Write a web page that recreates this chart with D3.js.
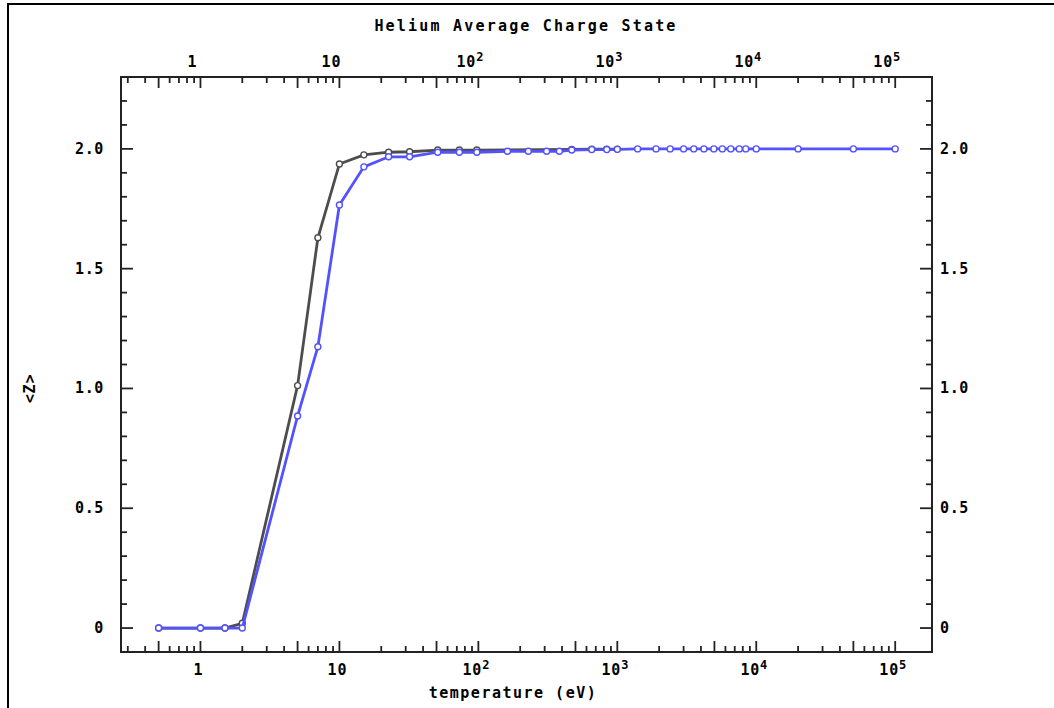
<!DOCTYPE html>
<html lang="en">
<head>
<meta charset="UTF-8">
<title>Helium Average Charge State</title>
<style>
  body { margin: 0; background: #fff; }
  text { font-family: "DejaVu Sans Mono", monospace; font-weight: bold; fill: #000; }
</style>
</head>
<body>
<div id="chart"></div>
<script src="https://d3js.org/d3.v7.min.js"></script>
<script>
// black (dark grey) series
const tempBlack = [0.5, 1, 1.5, 2, 5, 7, 10, 15, 22.6, 32, 51, 73, 97.5, 470, 655, 840, 1000];
const zBlack = [0, 0, 0, 0.02, 1.012, 1.629, 1.937, 1.975, 1.986, 1.988, 1.995, 1.995, 1.995, 1.998, 1.999, 1.999, 1.999];

// blue series
const tempBlue = [0.5, 1, 1.5, 2, 5, 7, 10, 15, 22.6, 32, 51, 73, 97.5, 162, 229, 310, 383, 470, 655, 840, 1000,
                  1400, 1900, 2400, 3000, 3550, 4200, 4950, 5700, 6550, 7550, 8400, 10000, 20000, 50000, 100000];
const zBlue = [0, 0, 0, 0, 0.885, 1.174, 1.766, 1.925, 1.967, 1.967, 1.986, 1.986, 1.986, 1.99, 1.99, 1.99, 1.99, 1.995, 1.997, 1.997, 1.998,
               2.0, 2.0, 2.0, 2.0, 2.0, 2.0, 2.0, 2.0, 2.0, 2.0, 2.0, 2.0, 2.0, 2.0, 2.0];

const xMajor = [1, 10, 100, 1000, 10000, 100000];
const xMajorExp = ["", "", "2", "3", "4", "5"];
const yMajor = [0, 0.5, 1.0, 1.5, 2.0];
const yMajorLabels = ["0", "0.5", "1.0", "1.5", "2.0"];

const width = 1054, height = 708;
const margin = {left: 121, right: 122, top: 77, bottom: 56};

const svg = d3.select("#chart").append("svg")
    .attr("width", width)
    .attr("height", height);

// outer page border
svg.append("rect")
    .attr("x", 8).attr("y", 4)
    .attr("width", 1200).attr("height", 900)
    .attr("fill", "none").attr("stroke", "#000").attr("stroke-width", 2);

const x = d3.scaleLog()
    .domain([0.268, 184000])
    .range([margin.left, width - margin.right]);

const y = d3.scaleLinear()
    .domain([-0.1, 2.3])
    .range([height - margin.bottom, margin.top]);

const x0 = x.range()[0], x1 = x.range()[1];
const y0 = y.range()[0], y1 = y.range()[1];

// frame
svg.append("rect")
    .attr("x", x0).attr("y", y1)
    .attr("width", x1 - x0).attr("height", y0 - y1)
    .attr("fill", "none").attr("stroke", "#222").attr("stroke-width", 2);

// log ticks: 2..9 per decade, 1 and 5 long
let xTicks = [];
for (let e = -1; e <= 5; e++) {
    for (let m = 1; m <= 9; m++) {
        const v = m * Math.pow(10, e);
        if (v >= x.domain()[0] && v <= x.domain()[1]) xTicks.push({v: v, long: (m == 1 || m == 5)});
    }
}

const tickG = svg.append("g").attr("stroke", "#222").attr("stroke-width", 1.8);

tickG.selectAll(".xb").data(xTicks).enter().append("line")
    .attr("x1", d => x(d.v)).attr("x2", d => x(d.v))
    .attr("y1", y0).attr("y2", d => y0 - (d.long ? 11 : 6));

tickG.selectAll(".xt").data(xTicks).enter().append("line")
    .attr("x1", d => x(d.v)).attr("x2", d => x(d.v))
    .attr("y1", y1).attr("y2", d => y1 + (d.long ? 11 : 6));

const yTicks = d3.range(-1, 24).map(i => ({v: i / 10, long: i % 5 == 0}));

tickG.selectAll(".yl").data(yTicks).enter().append("line")
    .attr("y1", d => y(d.v)).attr("y2", d => y(d.v))
    .attr("x1", x0).attr("x2", d => x0 + (d.long ? 12 : 6));

tickG.selectAll(".yr").data(yTicks).enter().append("line")
    .attr("y1", d => y(d.v)).attr("y2", d => y(d.v))
    .attr("x1", x1).attr("x2", d => x1 - (d.long ? 12 : 6));

// x tick labels (bottom and top)
function xLabel(yPos, dx) {
    const t = svg.selectAll(null).data(xMajor).enter().append("text")
        .attr("x", d => x(d) + dx)
        .attr("y", yPos)
        .attr("text-anchor", "middle")
        .attr("font-size", 15)
        .attr("letter-spacing", 0.8);
    t.append("tspan").text(d => d == 1 ? "1" : "10");
    t.append("tspan")
        .attr("dy", -6)
        .attr("font-size", 12)
        .text((d, i) => xMajorExp[i]);
}
xLabel(y0 + 23, -2);
xLabel(y1 - 10, -8);

// y tick labels
svg.selectAll(".yll").data(yMajor).enter().append("text")
    .attr("x", x0 - 17)
    .attr("y", d => y(d) + 5)
    .attr("text-anchor", "end")
    .attr("font-size", 15)
    .attr("letter-spacing", 0.6)
    .text((d, i) => yMajorLabels[i]);

svg.selectAll(".ylr").data(yMajor).enter().append("text")
    .attr("x", x1 + 8)
    .attr("y", d => y(d) + 5)
    .attr("text-anchor", "start")
    .attr("font-size", 15)
    .attr("letter-spacing", 0.6)
    .text((d, i) => yMajorLabels[i]);

// titles
svg.append("text")
    .attr("x", 526).attr("y", 31)
    .attr("text-anchor", "middle")
    .attr("font-size", 15)
    .attr("letter-spacing", 2.2)
    .text("Helium Average Charge State");

svg.append("text")
    .attr("x", 513).attr("y", 698)
    .attr("text-anchor", "middle")
    .attr("font-size", 15)
    .attr("letter-spacing", 1.5)
    .text("temperature (eV)");

svg.append("text")
    .attr("transform", "translate(35," + y(1.0) + ") rotate(-90)")
    .attr("text-anchor", "middle")
    .attr("font-size", 15)
    .attr("letter-spacing", 0.8)
    .text("<Z>");

// series
const series = [
    {t: tempBlack, z: zBlack, color: "#4d4d4d"},
    {t: tempBlue, z: zBlue, color: "#5252ff"}
];

const line = d3.line()
    .x(d => x(d[0]))
    .y(d => y(d[1]));

series.forEach(function(s) {
    const pts = s.t.map((t, i) => [t, s.z[i]]);
    svg.append("path")
        .datum(pts)
        .attr("fill", "none")
        .attr("stroke", s.color)
        .attr("stroke-width", 2.8)
        .attr("d", line);
    svg.selectAll(null).data(pts).enter().append("circle")
        .attr("cx", d => x(d[0]))
        .attr("cy", d => y(d[1]))
        .attr("r", 3)
        .attr("fill", "#fff")
        .attr("stroke", s.color)
        .attr("stroke-width", 1.4);
});
</script>
</body>
</html>
